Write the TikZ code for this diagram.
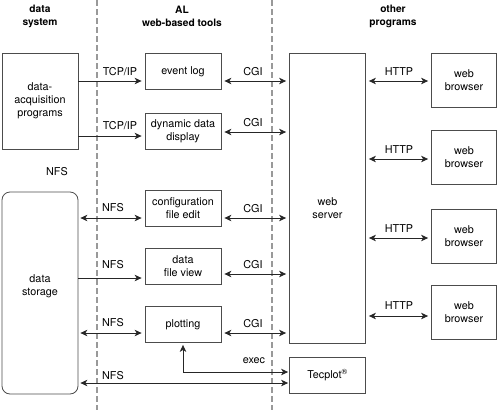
\documentclass[tikz,border=0pt]{standalone}
\usepackage{fontspec}
\setmainfont{TeX Gyre Heros}
\usetikzlibrary{arrows.meta}
\begin{document}
\begin{tikzpicture}[x=1pt,y=-1pt,
    every node/.style={font=\fontsize{10.8}{13}\selectfont, align=center, inner sep=1pt},
    head/.style={font=\fontsize{10.2}{13}\selectfont\bfseries},
    box/.style={draw=black!70, line width=0.8pt, minimum width=76pt, minimum height=36pt},
    tip/.tip={Stealth[length=7pt,width=6.5pt,inset=2pt]},
    link/.style={draw=black!85, line width=0.8pt, -tip, shorten >=3pt},
    both/.style={draw=black!85, line width=0.8pt, tip-tip, shorten >=3pt, shorten <=3pt},
    divider/.style={draw=black!40, line width=1.4pt, dash pattern=on 6pt off 3pt}]
  \useasboundingbox (0,0) rectangle (498,410);
  % column dividers
  \draw[divider] (97,0) -- (97,410);
  \draw[divider] (272,0) -- (272,410);
  % headings
  \node[head] (hdata) at (40,16) {data\\system};
  \node[head] (htools) at (182,16) {AL\\web-based tools};
  \node[head] (hother) at (393,16) {other\\programs};
  % data system
  \node[box, minimum height=96pt] (acq) at (40,101) {data-\\acquisition\\programs};
  \node[box, minimum height=202pt, rounded corners=8pt,
    label={[name=storetext, yshift=7pt]center:{data\\storage}}] (store) at (40,293) {};
  \node (nfsA) at (57,172) {NFS};
  % tools
  \node[box] (evlog) at (183,71.5) {event log};
  \node[box] (dyn) at (183,131) {dynamic data\\display};
  \node[box] (conf) at (183,208.5) {configuration\\file edit};
  \node[box] (fview) at (183,266.5) {data\\file view};
  \node[box] (plot) at (183,324.5) {plotting};
  % other programs
  \node[box, minimum height=290pt,
    label={[name=servertext, yshift=-10pt]center:{web\\server}}] (server) at (327.5,198) {};
  \node[box] (tec) at (327.5,375) {Tecplot\textsuperscript{\textregistered}};
  \node[box, minimum width=65pt, minimum height=54pt] (br1) at (464,80) {web\\browser};
  \node[box, minimum width=65pt, minimum height=54pt] (br2) at (464,157.5) {web\\browser};
  \node[box, minimum width=65pt, minimum height=54pt] (br3) at (464,236) {web\\browser};
  \node[box, minimum width=65pt, minimum height=54pt] (br4) at (464,312.5) {web\\browser};
  % connector labels
  \node (tcpA) at (120,72) {TCP/IP};
  \node (tcpB) at (120,126) {TCP/IP};
  \node (cgiA) at (253,72) {CGI};
  \node (cgiB) at (253,123) {CGI};
  \node (cgiC) at (253,209) {CGI};
  \node (cgiD) at (253,265) {CGI};
  \node (cgiE) at (253,324) {CGI};
  \node (httpA) at (399,72) {HTTP};
  \node (httpB) at (399,150) {HTTP};
  \node (httpC) at (399,229) {HTTP};
  \node (httpD) at (399,306) {HTTP};
  \node (nfsB) at (113,208) {NFS};
  \node (nfsC) at (113,265) {NFS};
  \node (nfsD) at (113,323) {NFS};
  \node (nfsE) at (113,376) {NFS};
  \node (exec) at (254,361) {exec};
  % connectors
  \begin{scope}
    \draw[link] (acq.east |- 0,81) -- (evlog.west |- 0,81);
    \draw[link] (acq.east |- 0,136) -- (dyn.west |- 0,136);
    \draw[both] (evlog.east |- 0,81) -- (server.west |- 0,81);
    \draw[both] (dyn.east |- 0,132) -- (server.west |- 0,132);
    \draw[both] (conf.east |- 0,218) -- (server.west |- 0,218);
    \draw[both] (fview.east |- 0,274) -- (server.west |- 0,274);
    \draw[both] (plot.east |- 0,333) -- (server.west |- 0,333);
    \draw[both] (server.east |- 0,81) -- (br1.west |- 0,81);
    \draw[both] (server.east |- 0,159) -- (br2.west |- 0,159);
    \draw[both] (server.east |- 0,238) -- (br3.west |- 0,238);
    \draw[both] (server.east |- 0,316) -- (br4.west |- 0,316);
    \draw[both, shorten <=2pt] (store.east |- 0,218) -- (conf.west |- 0,218);
    \draw[link] (store.east |- 0,278) -- (fview.west |- 0,278);
    \draw[both, shorten <=2pt] (store.east |- 0,333) -- (plot.west |- 0,333);
    \draw[both, shorten <=2pt, shorten >=1pt] (plot.south) |- (tec.west |- 0,372);
    \draw[both, shorten <=1pt, shorten >=2pt] (tec.west |- 0,383) -- (store.east |- 0,383);
  \end{scope}
\end{tikzpicture}
\end{document}
